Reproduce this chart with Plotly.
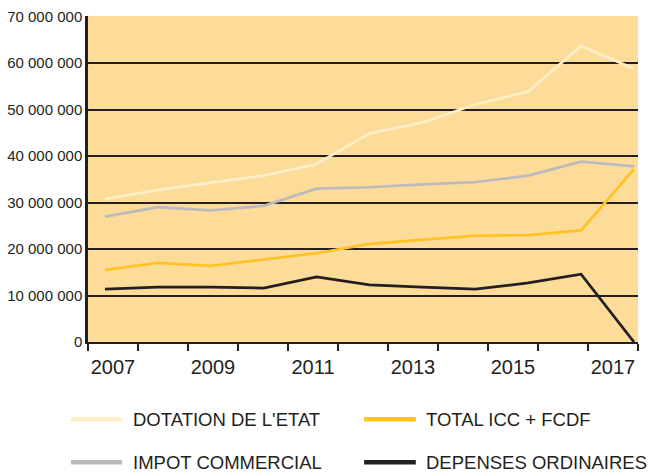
import plotly.graph_objects as go

years = [2007, 2008, 2009, 2010, 2011, 2012, 2013, 2014, 2015, 2016, 2017]
label_years = [str(y) for y in years[::2]]

series_names = ["DOTATION DE L'ETAT", "IMPOT COMMERCIAL", "TOTAL ICC + FCDF", "DEPENSES ORDINAIRES"]
dotation = [30.8e6, 32.7e6, 34.3e6, 35.8e6, 38.3e6, 44.9e6, 47.2e6, 51.1e6, 53.9e6, 63.7e6, 58.8e6]
impot = [27.0e6, 29.0e6, 28.3e6, 29.3e6, 33.0e6, 33.3e6, 33.9e6, 34.4e6, 35.8e6, 38.8e6, 37.8e6]
total = [15.5e6, 17.0e6, 16.4e6, 17.8e6, 19.1e6, 21.1e6, 22.0e6, 22.9e6, 23.0e6, 24.0e6, 37.2e6]
depenses = [11.4e6, 11.8e6, 11.8e6, 11.6e6, 14.0e6, 12.3e6, 11.8e6, 11.4e6, 12.7e6, 14.6e6, 0.0]

values = [dotation, impot, total, depenses]
colors = ["#FFEFC6", "#BBBBBD", "#FDC325", "#231F20"]

DARK = "#231F20"
FONT = "Liberation Sans"

fig = go.Figure()
# empty trace so that the category (tick/label) axis is drawn
fig.add_trace(go.Scatter(x=[], y=[], xaxis="x", mode="lines", showlegend=False, hoverinfo="skip"))
for name, vals, col in zip(series_names, values, colors):
    fig.add_trace(go.Scatter(x=years, y=vals, name=name, mode="lines", xaxis="x2",
                             line=dict(color=col, width=2.75), showlegend=False))

n_cat = len(years)
fig.update_layout(
    width=651, height=472,
    margin=dict(l=88, r=13, t=16, b=130, autoexpand=False),
    paper_bgcolor="white",
    plot_bgcolor="#FDDC99",
    separators=", ",
    font=dict(family=FONT, color=DARK),
    xaxis=dict(range=[0, n_cat],
               tickmode="array",
               tickvals=[i + 0.5 for i in range(0, n_cat, 2)],
               ticktext=label_years,
               ticks="", showgrid=False, zeroline=False,
               showline=True, linecolor=DARK, linewidth=2,
               tickfont=dict(size=20, family=FONT, color=DARK),
               ticklabelstandoff=6,
               minor=dict(tickmode="array", tickvals=list(range(n_cat + 1)),
                          ticks="outside", ticklen=7, tickwidth=2, tickcolor=DARK,
                          showgrid=False)),
    xaxis2=dict(overlaying="x", anchor="y", range=[years[0] - 0.321, years[-1] + 0.076],
                visible=False, showgrid=False),
    yaxis=dict(range=[0, 70.15e6], tickmode="linear", tick0=0, dtick=10e6,
               tickformat=",.0f", showgrid=True, gridcolor=DARK, gridwidth=2,
               zeroline=False, showline=True, linecolor=DARK, linewidth=2.5,
               ticks="", tickfont=dict(size=15, family=FONT, color=DARK),
               ticklabelstandoff=0),
)

# manual legend (two columns, two rows)
legend_pos = [  # (line x0, line x1, text x, y) in paper coords
    (-0.031, 0.062, 0.078, -0.237),
    (-0.031, 0.062, 0.078, -0.369),
    (0.502, 0.596, 0.610, -0.237),
    (0.502, 0.596, 0.610, -0.369),
]
for name, col, (x0, x1, tx, y) in zip(series_names, colors, legend_pos):
    fig.add_shape(type="line", xref="paper", yref="paper", x0=x0, x1=x1, y0=y, y1=y,
                  line=dict(color=col, width=4.5))
    fig.add_annotation(xref="paper", yref="paper", x=tx, y=y, text=name, showarrow=False,
                       xanchor="left", yanchor="middle",
                       font=dict(size=18.5, family=FONT, color=DARK))

fig.write_html("out.html", config={"displayModeBar": False},
               post_script="document.body.style.margin='0';")
